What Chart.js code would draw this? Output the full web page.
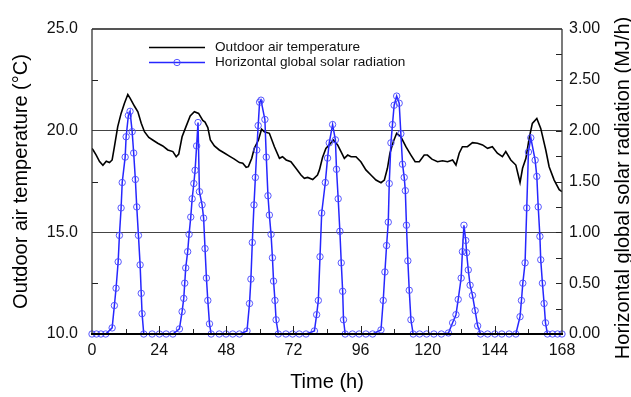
<!DOCTYPE html>
<html>
<head>
<meta charset="utf-8">
<script src="https://cdn.jsdelivr.net/npm/chart.js@4.4.1/dist/chart.umd.min.js"></script>
<style>
  html, body { margin: 0; padding: 0; background: #fff; }
  canvas { display: block; }
</style>
</head>
<body>
<canvas id="myChart" width="631" height="397"></canvas>
<script>
// outdoor air temperature (deg C)
const tempHours = [0, 0.4, 1.5, 2.7, 3.9, 5.1, 6.25, 7.2, 8.0, 9.2, 10.4, 11.6, 12.8, 13.6, 15.2, 16.4, 17.6, 18.75,
  20.3, 21.7, 23.5, 25.3, 27.1, 28.9, 30.1, 31.0, 32.2, 33.6, 35.1, 36.6, 38.1, 39.6, 40.4, 41.4, 42.3, 43.75,
  45.5, 47.3, 49.1, 50.9, 52.7, 53.9, 55.1, 55.9, 57.1, 58.0, 59.5, 60.6, 61.6, 63.4, 65.2, 67.0, 68.1, 69.4,
  71.1, 72.9, 74.7, 75.9, 77.1, 78.9, 80.6, 81.3, 82.4, 83.6, 84.8, 86.25, 87.8, 89.0, 90.2, 91.4, 92.6, 94.35,
  96.1, 97.9, 99.7, 101.5, 103.3, 104.5, 105.6, 106.5, 107.7, 108.9, 110.4, 112.2, 114.0, 115.5, 117.0, 118.75,
  119.9, 121.5, 123.5, 125.3, 127.1, 128.9, 130.1, 131.25, 132.4, 134.2, 136.0, 137.8, 139.6, 141.4, 143.1,
  144.9, 146.7, 147.9, 149.7, 151.5, 153.0, 153.9, 155.1, 156.25, 157.4, 159.0, 160.4, 162.2, 163.4, 165.2,
  167.0, 168];
const tempValues = [19.13, 19.05, 18.8, 18.48, 18.3, 18.5, 18.43, 18.56, 19.2, 20.2, 20.85, 21.35, 21.78, 21.6,
  21.2, 20.93, 20.36, 19.95, 19.67, 19.54, 19.38, 19.25, 19.05, 18.97, 18.72, 18.85, 19.7, 20.2, 20.72, 20.93,
  20.85, 20.5, 20.42, 20.15, 19.54, 19.25, 19.05, 18.9, 18.75, 18.6, 18.43, 18.4, 18.2, 18.23, 18.64, 19.13,
  19.54, 20.07, 19.95, 19.87, 19.21, 18.64, 18.72, 18.56, 18.47, 18.15, 17.82, 17.66, 17.7, 17.6, 17.82, 18.07,
  18.68, 19.13, 19.3, 19.54, 19.3, 18.97, 18.64, 18.8, 18.72, 18.72, 18.47, 18.07, 17.82, 17.57, 17.44, 17.57,
  18.15, 18.89, 19.46, 19.87, 19.7, 19.21, 18.8, 18.47, 18.47, 18.8, 18.8, 18.6, 18.47, 18.52, 18.47, 18.56,
  18.31, 18.89, 19.21, 19.21, 19.41, 19.38, 19.3, 19.13, 19.21, 18.89, 18.72, 18.97, 18.56, 18.31, 17.45, 18.15,
  18.64, 19.62, 20.36, 20.6, 20.11, 19.05, 18.23, 17.57, 17.1, 17.0];

// horizontal global solar radiation (MJ/h)
const radHours = [0, 1.6, 3.2, 4.9,
  7.2, 8.0, 8.6, 9.35, 9.8, 10.4, 10.8, 11.85, 12.2, 13.0, 13.6, 14.35, 14.9, 15.5, 16.0, 16.6, 17.2, 17.6, 17.9, 18.5,
  21.5, 24.1, 26.5, 28.9,
  31.25, 32.2, 32.8, 33.15, 33.5, 34.2, 34.7, 35.3, 35.8, 36.4, 36.85, 37.4, 37.9, 38.4, 39.35, 39.9, 40.4, 40.9, 41.4, 42.0, 42.6,
  45.5, 47.9, 50.3, 52.7,
  55.4, 56.3, 56.8, 57.3, 57.9, 58.4, 58.9, 59.4, 59.9, 60.4, 61.8, 62.3, 62.9, 63.4, 64.0, 64.5, 64.9, 65.4, 65.8, 66.6,
  69.3, 71.7, 74.1, 76.5,
  79.5, 80.3, 80.9, 81.5, 82.1, 83.4, 84.2, 84.8, 86.0, 87.0, 87.4, 88.0, 88.6, 89.1, 89.6, 89.9, 90.5,
  93.1, 95.5, 97.9, 100.3,
  103.3, 104.1, 104.7, 105.3, 105.9, 106.25, 106.85, 107.4, 108.0, 108.9, 109.8, 110.4, 111.0, 111.6, 112.0, 112.4, 112.9, 113.4, 114.0, 114.8,
  117.1, 119.6, 122.2, 124.9,
  127.4, 128.9, 130.1, 130.9, 131.95, 132.4, 132.95, 133.6, 133.9, 134.5, 135.15, 136.0, 136.95, 137.85, 138.9,
  141.4, 144.0, 146.5, 149.1, 151.5,
  153.0, 153.5, 154.0, 154.8, 155.4, 156.0, 156.85, 158.4, 159.0, 159.5, 160.1, 160.4, 161.0, 161.6, 162.1, 162.8,
  164.6, 166.4, 168];
const radValues = [0, 0, 0, 0,
  0.06, 0.28, 0.45, 0.71, 0.97, 1.24, 1.49, 1.74, 1.94, 2.15, 2.19, 1.99, 1.78, 1.52, 1.25, 0.97, 0.68, 0.40, 0.20, 0,
  0, 0, 0, 0,
  0.05, 0.22, 0.35, 0.50, 0.65, 0.81, 0.98, 1.15, 1.33, 1.48, 1.61, 1.85, 2.08, 1.40, 1.27, 1.14, 0.84, 0.55, 0.33, 0.10, 0,
  0, 0, 0, 0,
  0.03, 0.30, 0.54, 0.90, 1.27, 1.54, 1.81, 2.05, 2.28, 2.30, 2.11, 1.74, 1.36, 1.17, 0.98, 0.75, 0.52, 0.33, 0.14, 0,
  0, 0, 0, 0,
  0.03, 0.19, 0.33, 0.76, 1.19, 1.49, 1.73, 1.88, 2.06, 1.91, 1.62, 1.33, 1.01, 0.70, 0.42, 0.14, 0,
  0, 0, 0, 0,
  0.04, 0.33, 0.61, 0.87, 1.10, 1.48, 1.88, 2.06, 2.25, 2.34, 2.27, 1.97, 1.67, 1.54, 1.41, 1.07, 0.72, 0.43, 0.14, 0,
  0, 0, 0, 0,
  0.01, 0.11, 0.19, 0.34, 0.55, 0.81, 1.07, 0.92, 0.80, 0.63, 0.48, 0.38, 0.23, 0.08, 0,
  0, 0, 0, 0, 0,
  0.17, 0.33, 0.50, 0.70, 1.24, 1.79, 1.93, 1.71, 1.55, 1.25, 0.96, 0.73, 0.50, 0.30, 0.11, 0,
  0, 0, 0];

const seriesNames = ['Outdoor air temperature', 'Horizontal global solar radiation'];

const FONT = '"Liberation Sans", Arial, sans-serif';
const BLUE = '#2626ff';
const BLUE_PT = 'rgba(70, 70, 255, 0.9)';

// inward ticks, frame, legend and right-hand title
const decorations = {
  id: 'decorations',
  afterDatasetsDraw(chart) {
    const {ctx, chartArea: a, scales} = chart;
    ctx.save();
    ctx.strokeStyle = '#222';
    ctx.lineWidth = 1;
    const seg = (x1, y1, x2, y2) => { ctx.beginPath(); ctx.moveTo(x1, y1); ctx.lineTo(x2, y2); ctx.stroke(); };

    for (let h = 12; h < 168; h += 12) {
      const px = Math.round(scales.x.getPixelForValue(h)) + 0.5;
      seg(px, a.bottom, px, a.bottom - (h % 24 === 0 ? 8 : 5));
    }
    [12.5, 17.5, 22.5].forEach(t => {
      const py = Math.round(scales.y.getPixelForValue(t)) + 0.5;
      seg(a.left, py, a.left + 6, py);
    });
    for (let r = 0.25; r < 3; r += 0.25) {
      const py = Math.round(scales.y1.getPixelForValue(r)) + 0.5;
      seg(a.right - 6, py, a.right, py);
    }

    // frame
    ctx.strokeStyle = '#555';
    ctx.lineWidth = 2;
    seg(a.left, a.top, a.right, a.top);
    ctx.strokeStyle = '#333';
    ctx.lineWidth = 1.3;
    seg(a.left, a.top, a.left, a.bottom);
    seg(a.right, a.top, a.right, a.bottom);
    ctx.strokeStyle = '#000';
    ctx.lineWidth = 2;
    seg(a.left - 1, a.bottom, a.right + 1, a.bottom);
    ctx.restore();
  },
  afterDraw(chart) {
    const {ctx} = chart;
    ctx.save();
    // legend
    ctx.font = '13.6px ' + FONT;
    ctx.fillStyle = '#111';
    ctx.textBaseline = 'alphabetic';
    ctx.textAlign = 'left';
    ctx.lineWidth = 1.5;
    ctx.strokeStyle = '#000';
    ctx.beginPath(); ctx.moveTo(149, 47.5); ctx.lineTo(205, 47.5); ctx.stroke();
    ctx.fillText(seriesNames[0], 215, 51);
    ctx.strokeStyle = BLUE;
    ctx.beginPath(); ctx.moveTo(149, 62.5); ctx.lineTo(205, 62.5); ctx.stroke();
    ctx.strokeStyle = BLUE_PT;
    ctx.lineWidth = 1;
    ctx.beginPath(); ctx.arc(177, 62.5, 3.2, 0, Math.PI * 2); ctx.stroke();
    ctx.fillText(seriesNames[1], 215, 66);

    // right axis title, reading bottom to top
    ctx.font = '20px ' + FONT;
    ctx.fillStyle = '#000';
    ctx.translate(629, 188);
    ctx.rotate(-Math.PI / 2);
    ctx.textAlign = 'center';
    ctx.fillText('Horizontal global solar radiation (MJ/h)', 0, 0);
    ctx.restore();
  }
};

const grOne = document.getElementById('myChart');

new Chart(grOne, {
  type: 'line',
  data: {
    datasets: [{
      label: seriesNames[1],
      data: radHours.map((h, i) => ({x: h, y: radValues[i]})),
      yAxisID: 'y1',
      borderColor: BLUE,
      borderWidth: 1.5,
      pointRadius: 3.2,
      pointBackgroundColor: 'rgba(0,0,0,0)',
      pointBorderColor: BLUE_PT,
      pointBorderWidth: 1,
      tension: 0,
      clip: false,
      order: 0
    }, {
      label: seriesNames[0],
      data: tempHours.map((h, i) => ({x: h, y: tempValues[i]})),
      yAxisID: 'y',
      borderColor: '#000',
      borderWidth: 1.6,
      pointRadius: 0,
      tension: 0,
      order: 1
    }]
  },
  options: {
    responsive: false,
    animation: false,
    layout: { padding: { top: 29, left: 0, right: 0, bottom: 0 } },
    plugins: {
      legend: { display: false },
      tooltip: { enabled: false }
    },
    scales: {
      x: {
        type: 'linear',
        min: 0,
        max: 168,
        ticks: {
          stepSize: 24,
          autoSkip: false,
          maxRotation: 0,
          padding: 7,
          color: '#111',
          font: { family: FONT, size: 16 }
        },
        grid: { drawOnChartArea: false, drawTicks: false },
        border: { display: false },
        title: {
          display: true,
          text: 'Time (h)',
          color: '#000',
          font: { family: FONT, size: 20 },
          padding: { top: 0, bottom: 3 }
        },
        afterFit: (s) => { s.height = 63; }
      },
      y: {
        position: 'left',
        min: 10,
        max: 25,
        ticks: {
          stepSize: 5,
          padding: 14,
          color: '#111',
          font: { family: FONT, size: 16 },
          callback: (v) => v.toFixed(1)
        },
        grid: {
          drawTicks: false,
          lineWidth: 1,
          color: (c) => (c.tick && (c.tick.value === 15 || c.tick.value === 20)) ? '#444' : 'rgba(0,0,0,0)'
        },
        border: { display: false },
        title: {
          display: true,
          text: 'Outdoor air temperature (°C)',
          color: '#000',
          font: { family: FONT, size: 20 },
          padding: { top: 9, bottom: 0 }
        },
        afterFit: (s) => { s.width = 92; }
      },
      y1: {
        position: 'right',
        min: 0,
        max: 3,
        ticks: {
          stepSize: 0.5,
          padding: 7,
          color: '#111',
          font: { family: FONT, size: 16 },
          callback: (v) => v.toFixed(2)
        },
        grid: { drawOnChartArea: false, drawTicks: false },
        border: { display: false },
        afterFit: (s) => { s.width = 69; }
      }
    }
  },
  plugins: [decorations]
});
</script>
</body>
</html>
